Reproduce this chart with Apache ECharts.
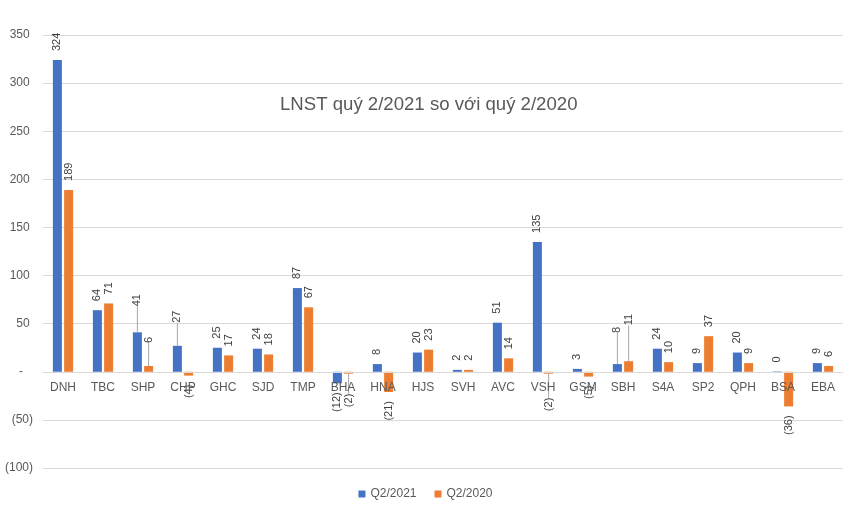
<!DOCTYPE html>
<html>
<head>
<meta charset="utf-8">
<script src="https://cdn.jsdelivr.net/npm/echarts@6/dist/echarts.min.js"></script>
<style>
html,body{margin:0;padding:0;background:#fff;}
#chart{width:851px;height:509px;}
</style>
</head>
<body>
<div id="chart"></div>
<script>
var categories = ['DNH','TBC','SHP','CHP','GHC','SJD','TMP','BHA','HNA','HJS','SVH','AVC','VSH','GSM','SBH','S4A','SP2','QPH','BSA','EBA'];
var q2_2021 = [324, 64, 41, 27, 25, 24, 87, -12, 8, 20, 2, 51, 135, 3, 8, 24, 9, 20, 0.4, 9];
var q2_2020 = [189, 71, 6, -4, 17, 18, 67, -2, -21, 23, 2, 14, -2, -5, 11, 10, 37, 9, -36, 6];
var seriesNames = ['Q2/2021', 'Q2/2020'];
var titleText = 'LNST quý 2/2021 so với quý 2/2020';
var yMin = -100, yMax = 350, yStep = 50;

// vertical label shifts (screen px, negative = up) for labels moved with leader lines
var labelShift = {
  '0-2': -17, '1-2': -14, '0-3': -14, '0-14': -22, '1-14': -27, '1-12': 15, '1-7': 11
};

var W = 851, H = 509;
var grid = {left: 43, right: 8, top: 35, bottom: 41};
var gridH = H - grid.top - grid.bottom;
// put the category axis on the zero line
var xAxisOffset = -((0 - yMin) / (yMax - yMin)) * gridH;

function fmt(v){
  var r = Math.round(Math.abs(v));
  return v < 0 ? '(' + r + ')' : String(r);
}

function buildData(arr, si){
  return arr.map(function(v, i){
    var item = {value: v};
    if (v < 0) {
      item.label = {position: 'bottom', align: 'right'};
    }
    if (labelShift[si + '-' + i] !== undefined) {
      item.labelLine = {show: true};
    }
    return item;
  });
}

var labelCommon = {
  show: true,
  position: 'top',
  rotate: 90,
  align: 'left',
  verticalAlign: 'middle',
  distance: 9,
  fontSize: 11,
  fontFamily: 'Liberation Sans, Arial, sans-serif',
  color: '#404040',
  formatter: function(p){ return fmt(p.value); }
};

function layoutFor(si){
  return function(p){
    var s = labelShift[si + '-' + p.dataIndex];
    // label is rotated 90deg, so its local x axis points up on screen
    return s !== undefined ? {dx: -s} : {};
  };
}

var chart = echarts.init(document.getElementById('chart'), null, {renderer: 'canvas'});
chart.setOption({
  animation: false,
  backgroundColor: '#fff',
  title: {
    text: titleText,
    left: 275,
    top: 90,
    textStyle: {fontSize: 18.6, fontWeight: 'normal', color: '#595959', fontFamily: 'Liberation Sans, Arial, sans-serif'}
  },
  legend: {
    bottom: 4,
    left: 'center',
    itemWidth: 7,
    itemHeight: 7,
    itemGap: 18,
    icon: 'rect',
    textStyle: {fontSize: 12, color: '#595959', fontFamily: 'Liberation Sans, Arial, sans-serif'},
    data: seriesNames
  },
  grid: {left: grid.left, right: grid.right, top: grid.top, bottom: grid.bottom, containLabel: false},
  xAxis: {
    type: 'category',
    data: categories,
    z: 5,
    offset: xAxisOffset,
    axisLine: {show: true, onZero: false, lineStyle: {color: '#d9d9d9', width: 1}},
    axisTick: {show: false},
    axisLabel: {fontSize: 12, color: '#595959', margin: 10, interval: 0, fontFamily: 'Liberation Sans, Arial, sans-serif'}
  },
  yAxis: {
    type: 'value',
    min: yMin,
    max: yMax,
    interval: yStep,
    axisLine: {show: false},
    axisTick: {show: false},
    splitLine: {lineStyle: {color: '#d9d9d9', width: 1}},
    axisLabel: {
      fontSize: 12, color: '#595959', margin: 10, fontFamily: 'Liberation Sans, Arial, sans-serif',
      formatter: function(v){
        if (v === 0) return '-   ';
        return v < 0 ? '(' + Math.abs(v) + ')' : v + ' ';
      }
    }
  },
  series: [
    {
      name: seriesNames[0], type: 'bar', data: buildData(q2_2021, 0),
      barWidth: 9, barGap: '25%',
      itemStyle: {color: '#4472C4'},
      label: labelCommon,
      labelLine: {show: false, lineStyle: {color: '#a6a6a6', width: 1}},
      labelLayout: layoutFor(0)
    },
    {
      name: seriesNames[1], type: 'bar', data: buildData(q2_2020, 1),
      barWidth: 9, barGap: '25%',
      itemStyle: {color: '#ED7D31'},
      label: labelCommon,
      labelLine: {show: false, lineStyle: {color: '#a6a6a6', width: 1}},
      labelLayout: layoutFor(1)
    }
  ]
});
</script>
</body>
</html>
